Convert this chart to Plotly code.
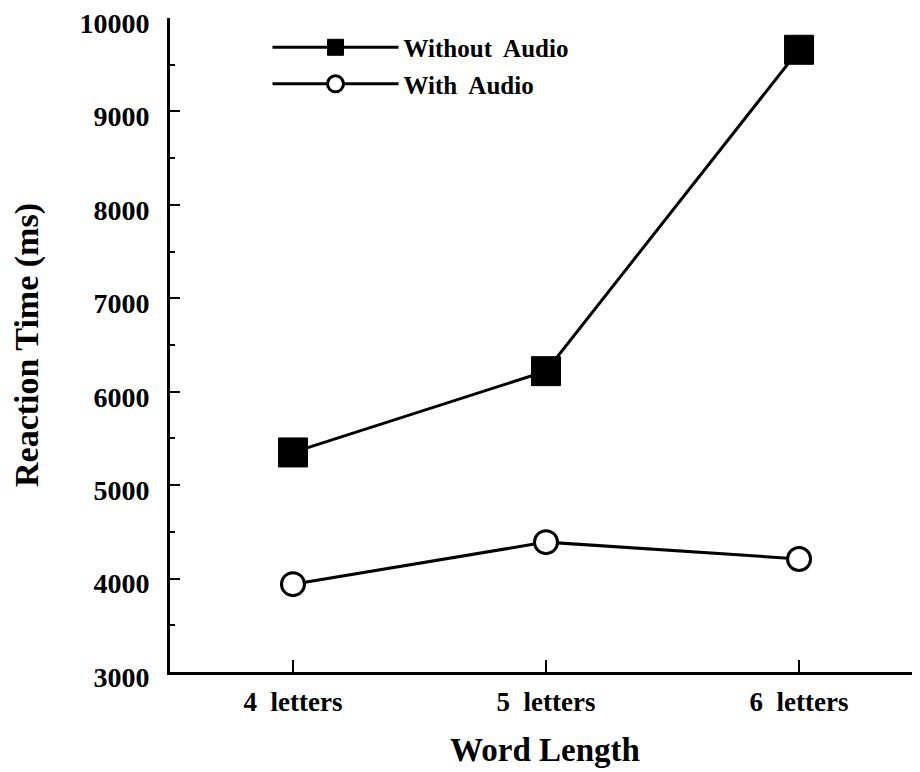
import plotly.graph_objects as go

categories = ["4  letters", "5  letters", "6  letters"]
without_audio = [5350, 6220, 9660]
with_audio = [3940, 4390, 4210]
y_ticks = [3000, 4000, 5000, 6000, 7000, 8000, 9000, 10000]

FONT = "Liberation Serif"

fig = go.Figure()
fig.add_trace(go.Scatter(
    x=[0, 1, 2], y=without_audio, name="Without  Audio",
    mode="lines+markers", legendgroup="a",
    line=dict(color="black", width=3),
    marker=dict(symbol="square", size=29, color="black", line=dict(color="black", width=1)),
))
fig.add_trace(go.Scatter(
    x=[0, 1, 2], y=with_audio, name="With  Audio",
    mode="lines+markers", legendgroup="b",
    line=dict(color="black", width=3),
    marker=dict(symbol="circle", size=23, color="white", line=dict(color="black", width=3)),
))

fig.update_layout(
    width=912, height=764,
    margin=dict(l=162, r=0, t=10, b=100, autoexpand=False),
    paper_bgcolor="white", plot_bgcolor="white",
    font=dict(family=FONT, color="black"),
    showlegend=True,
    legend=dict(
        x=0.13, y=0.99, xanchor="left", yanchor="top",
        bgcolor="rgba(0,0,0,0)",
        font=dict(family=FONT, size=25, color="black", weight="bold"),
        itemwidth=126, tracegroupgap=1,
    ),
)
fig.update_xaxes(
    range=[-0.486, 2.478],
    tickmode="array", tickvals=[0, 1, 2], ticktext=categories,
    showgrid=False, zeroline=False, automargin=False,
    showline=True, linecolor="black", linewidth=3,
    ticks="inside", ticklen=12, tickwidth=2, tickcolor="black",
    tickfont=dict(family=FONT, size=27, color="black", weight="bold"),
    ticklabelstandoff=4,
    title=dict(text="Word Length", font=dict(family=FONT, size=33, color="black", weight="bold"), standoff=22),
)
fig.update_yaxes(
    range=[3000, 10000],
    tickmode="array", tickvals=y_ticks, ticktext=[str(v) for v in y_ticks],
    ticklabeloverflow="allow", ticklabelshift=5,
    showgrid=False, zeroline=False, automargin=False,
    showline=True, linecolor="black", linewidth=3,
    ticks="inside", ticklen=10, tickwidth=2, tickcolor="black",
    minor=dict(dtick=500, ticks="inside", ticklen=5, tickwidth=2, tickcolor="black", showgrid=False),
    tickfont=dict(family=FONT, size=28, color="black", weight="bold"),
    ticklabelstandoff=12,
    title=dict(text="Reaction Time (ms)", font=dict(family=FONT, size=34, color="black", weight="bold"), standoff=34),
)

fig.write_html("out.html")
